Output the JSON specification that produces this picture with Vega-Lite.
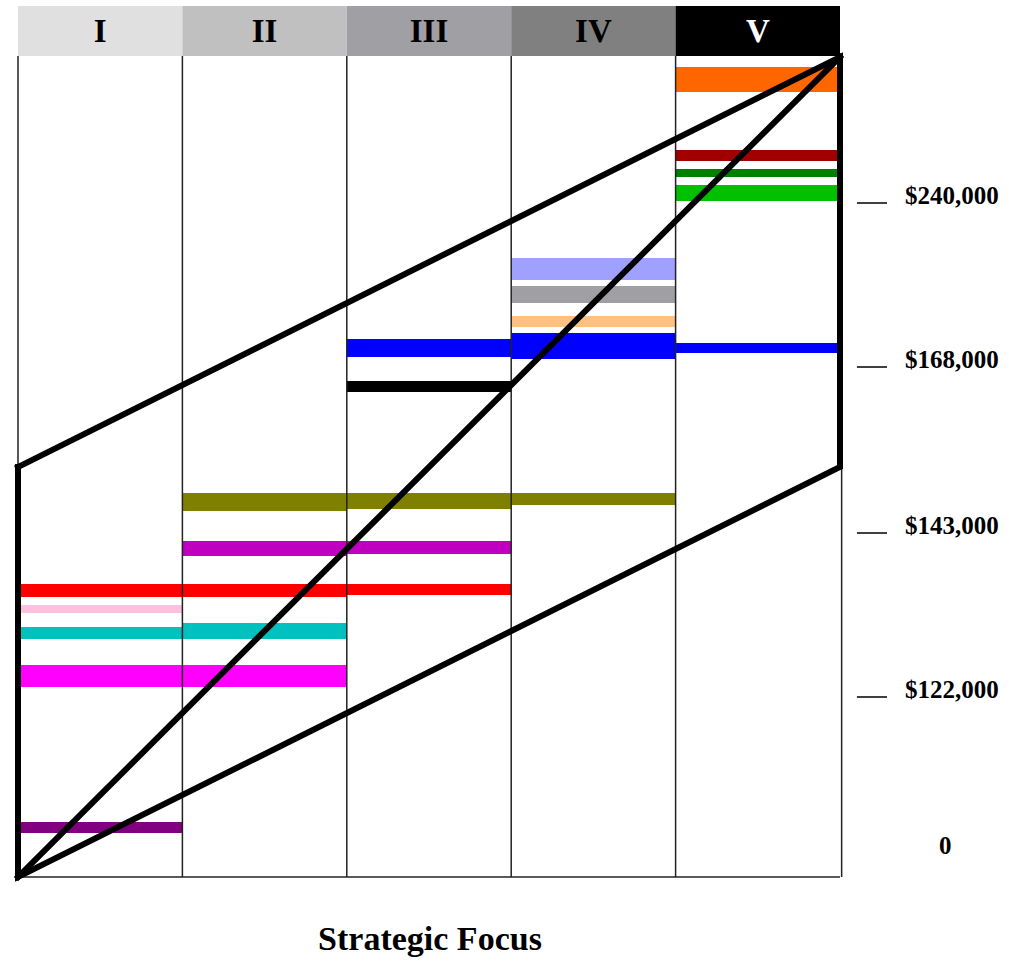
{
  "$schema": "https://vega.github.io/schema/vega-lite/v6.json",
  "width": 1009,
  "height": 962,
  "autosize": "none",
  "padding": 0,
  "background": "white",
  "config": {"view": {"stroke": null}},
  "resolve": {"scale": {"color": "independent"}},
  "datasets": {
    "columns": [
      {"label": "I", "c0": 0, "c1": 1},
      {"label": "II", "c0": 1, "c1": 2},
      {"label": "III", "c0": 2, "c1": 3},
      {"label": "IV", "c0": 3, "c1": 4},
      {"label": "V", "c0": 4, "c1": 5}
    ],
    "bars": [
      {"series": "orange", "c0": 4, "c1": 5, "top": 810, "bottom": 785},
      {"series": "darkred", "c0": 4, "c1": 5, "top": 727, "bottom": 716},
      {"series": "darkgreen", "c0": 4, "c1": 5, "top": 708, "bottom": 700},
      {"series": "green", "c0": 4, "c1": 5, "top": 692, "bottom": 676},
      {"series": "lavender", "c0": 3, "c1": 4, "top": 619, "bottom": 597},
      {"series": "gray", "c0": 3, "c1": 4, "top": 591, "bottom": 574},
      {"series": "peach", "c0": 3, "c1": 4, "top": 561, "bottom": 550},
      {"series": "blue", "c0": 2, "c1": 3, "top": 538, "bottom": 520},
      {"series": "blue", "c0": 3, "c1": 4, "top": 544, "bottom": 518},
      {"series": "blue", "c0": 4, "c1": 5, "top": 534, "bottom": 524},
      {"series": "black", "c0": 2, "c1": 3, "top": 496, "bottom": 485},
      {"series": "olive", "c0": 1, "c1": 2, "top": 384, "bottom": 366},
      {"series": "olive", "c0": 2, "c1": 3, "top": 384, "bottom": 368},
      {"series": "olive", "c0": 3, "c1": 4, "top": 384, "bottom": 372},
      {"series": "purple", "c0": 1, "c1": 2, "top": 336, "bottom": 321},
      {"series": "purple", "c0": 2, "c1": 3, "top": 336, "bottom": 323},
      {"series": "red", "c0": 0, "c1": 1, "top": 293, "bottom": 280},
      {"series": "red", "c0": 1, "c1": 2, "top": 293, "bottom": 280},
      {"series": "red", "c0": 2, "c1": 3, "top": 293, "bottom": 282},
      {"series": "pink", "c0": 0, "c1": 1, "top": 272, "bottom": 264},
      {"series": "cyan", "c0": 0, "c1": 1, "top": 250, "bottom": 238},
      {"series": "cyan", "c0": 1, "c1": 2, "top": 254, "bottom": 238},
      {"series": "magenta", "c0": 0, "c1": 1, "top": 212, "bottom": 190},
      {"series": "magenta", "c0": 1, "c1": 2, "top": 212, "bottom": 190},
      {"series": "plum", "c0": 0, "c1": 1, "top": 55, "bottom": 44}
    ],
    "gridlines": [
      {"x": 0, "y0": 410, "y1": 821},
      {"x": 1, "y0": 0, "y1": 821},
      {"x": 2, "y0": 0, "y1": 821},
      {"x": 3, "y0": 0, "y1": 821},
      {"x": 4, "y0": 0, "y1": 821},
      {"x": 5.01, "y0": 0, "y1": 410}
    ],
    "frame": [
      {"seg": "outline", "ord": 1, "x": 0, "y": 410},
      {"seg": "outline", "ord": 2, "x": 0, "y": 0},
      {"seg": "outline", "ord": 3, "x": 5, "y": 410},
      {"seg": "outline", "ord": 4, "x": 5, "y": 820},
      {"seg": "outline", "ord": 5, "x": 0, "y": 410},
      {"seg": "diagonal", "ord": 1, "x": 0, "y": 0},
      {"seg": "diagonal", "ord": 2, "x": 5, "y": 820}
    ],
    "salary": [
      {"label": "$240,000", "level": 674, "pos": 5.68, "tick": true},
      {"label": "$168,000", "level": 510, "pos": 5.68, "tick": true},
      {"label": "$143,000", "level": 344, "pos": 5.68, "tick": true},
      {"label": "$122,000", "level": 180, "pos": 5.68, "tick": true},
      {"label": "0", "level": 24, "pos": 5.64, "tick": false}
    ]
  },
  "encoding": {
    "x": {"type": "quantitative", "scale": {"domain": [-0.1095, 6.028], "nice": false, "zero": false}, "axis": null},
    "y": {"type": "quantitative", "scale": {"domain": [-85, 877], "nice": false, "zero": false}, "axis": null}
  },
  "layer": [
    {
      "data": {"name": "columns"},
      "mark": {"type": "rect"},
      "encoding": {
        "x": {"field": "c0", "type": "quantitative"},
        "x2": {"field": "c1"},
        "y": {"datum": 821, "type": "quantitative"},
        "y2": {"datum": 871},
        "fill": {
          "field": "label", "type": "nominal", "legend": null,
          "scale": {"domain": ["I", "II", "III", "IV", "V"], "range": ["#e0e0e0", "#c0c0c0", "#a0a0a4", "#808080", "#000000"]}
        }
      }
    },
    {
      "data": {"name": "columns"},
      "transform": [{"calculate": "(datum.c0 + datum.c1) / 2", "as": "mid"}],
      "mark": {"type": "text", "font": "Liberation Serif", "fontWeight": "bold", "fontSize": 33, "baseline": "middle", "align": "center"},
      "encoding": {
        "x": {"field": "mid", "type": "quantitative"},
        "y": {"datum": 845, "type": "quantitative"},
        "text": {"field": "label"},
        "color": {"condition": {"test": "datum.label == 'V'", "value": "white"}, "value": "black"}
      }
    },
    {
      "data": {"name": "bars"},
      "mark": {"type": "rect"},
      "encoding": {
        "x": {"field": "c0", "type": "quantitative"},
        "x2": {"field": "c1"},
        "y": {"field": "top", "type": "quantitative"},
        "y2": {"field": "bottom"},
        "color": {
          "field": "series", "type": "nominal", "legend": null,
          "scale": {
            "domain": ["orange", "darkred", "darkgreen", "green", "lavender", "gray", "peach", "blue", "black", "olive", "purple", "red", "pink", "cyan", "magenta", "plum"],
            "range": ["#ff6600", "#a00000", "#008000", "#00c000", "#a0a0ff", "#a0a0a4", "#ffc080", "#0000ff", "#000000", "#808000", "#c000c0", "#ff0000", "#ffc0e0", "#00c0c0", "#ff00ff", "#800080"]
          }
        }
      }
    },
    {
      "data": {"name": "gridlines"},
      "mark": {"type": "rule", "color": "#222222", "strokeWidth": 1.5},
      "encoding": {
        "x": {"field": "x", "type": "quantitative"},
        "y": {"field": "y0", "type": "quantitative"},
        "y2": {"field": "y1"}
      }
    },
    {
      "data": {"values": [{"a": 0, "b": 5, "level": 0}]},
      "mark": {"type": "rule", "color": "#222222", "strokeWidth": 1.5},
      "encoding": {
        "x": {"field": "a", "type": "quantitative"},
        "x2": {"field": "b"},
        "y": {"field": "level", "type": "quantitative"}
      }
    },
    {
      "data": {"name": "frame"},
      "mark": {"type": "line", "color": "black", "strokeWidth": 6, "strokeJoin": "miter", "strokeCap": "square"},
      "encoding": {
        "x": {"field": "x", "type": "quantitative"},
        "y": {"field": "y", "type": "quantitative"},
        "detail": {"field": "seg"},
        "order": {"field": "ord"}
      }
    },
    {
      "data": {"name": "salary"},
      "transform": [{"filter": "datum.tick"}],
      "mark": {"type": "rule", "color": "black", "strokeWidth": 1.5},
      "encoding": {
        "x": {"datum": 5.103, "type": "quantitative"},
        "x2": {"datum": 5.286},
        "y": {"field": "level", "type": "quantitative"}
      }
    },
    {
      "data": {"name": "salary"},
      "mark": {"type": "text", "font": "Liberation Serif", "fontWeight": "bold", "fontSize": 25, "baseline": "middle", "align": "center", "dy": -7},
      "encoding": {
        "x": {"field": "pos", "type": "quantitative"},
        "y": {"field": "level", "type": "quantitative"},
        "text": {"field": "label"}
      }
    },
    {
      "data": {"values": [{"title": "Strategic Focus", "pos": 2.506, "level": -63}]},
      "mark": {"type": "text", "font": "Liberation Serif", "fontWeight": "bold", "fontSize": 34, "baseline": "middle", "align": "center"},
      "encoding": {
        "x": {"field": "pos", "type": "quantitative"},
        "y": {"field": "level", "type": "quantitative"},
        "text": {"field": "title"}
      }
    }
  ]
}
